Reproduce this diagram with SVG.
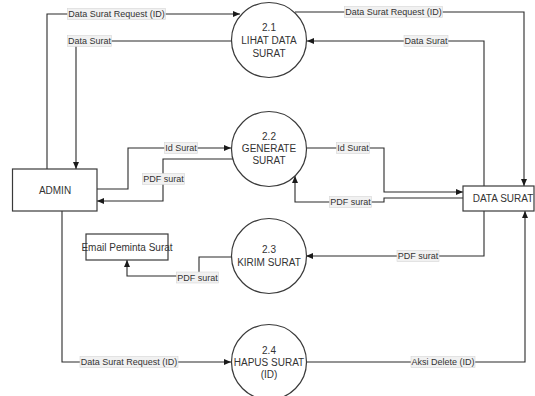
<svg xmlns="http://www.w3.org/2000/svg" width="535" height="396" viewBox="0 0 535 396">
<defs>
<marker id="arr" markerUnits="userSpaceOnUse" markerWidth="7" markerHeight="6" refX="7" refY="3" orient="auto">
<path d="M0,0 L7,3 L0,6 z" fill="#1a1a1a"/>
</marker>
<style>
.node{fill:#fff;stroke:#3a3a3a;stroke-width:1.2}
.nt{font-family:"Liberation Sans",Arial,sans-serif;font-size:10px;fill:#333;text-anchor:middle}
.c{fill:none;stroke:#2a2a2a;stroke-width:1.1;marker-end:url(#arr)}
.lb{fill:#f1f1f1;stroke:#d6d6d6;stroke-width:0.6}
.lt{font-family:"Liberation Sans",Arial,sans-serif;font-size:9px;fill:#333;text-anchor:middle}
</style>
</defs>
<rect width="535" height="396" fill="#fff"/>
<g id="connectors">
<path class="c" d="M47,169 L47,14 L240,14"/>
<path class="c" d="M231,41 L76,41 L76,169"/>
<path class="c" d="M295,12 L524,12 L524,186"/>
<path class="c" d="M484,186 L484,41 L307,41"/>
<path class="c" d="M97,189 L128,189 L128,148 L231,148"/>
<path class="c" d="M233,159 L163,159 L163,201 L97,201"/>
<path class="c" d="M306,148 L384,148 L384,192 L463,192"/>
<path class="c" d="M463,198 L384,198 L384,202 L295,202 L295,176"/>
<path class="c" d="M484,211 L484,256 L306,256"/>
<path class="c" d="M232,257 L199,257 L199,276 L127,276 L127,260"/>
<path class="c" d="M62,211 L62,362 L231,362"/>
<path class="c" d="M306,362 L525,362 L525,211"/>
<g id="labels">
<rect class="lb" x="67.5" y="8.5" width="98" height="11"/>
<text class="lt" x="116.5" y="17.3">Data Surat Request (ID)</text>
<rect class="lb" x="67.5" y="35.5" width="44" height="11"/>
<text class="lt" x="89.5" y="44.3">Data Surat</text>
<rect class="lb" x="344.5" y="6.5" width="98" height="11"/>
<text class="lt" x="393.5" y="15.3">Data Surat Request (ID)</text>
<rect class="lb" x="404" y="35.5" width="44" height="11"/>
<text class="lt" x="426" y="44.3">Data Surat</text>
<rect class="lb" x="164.5" y="142.5" width="33" height="11"/>
<text class="lt" x="181" y="151.3">Id Surat</text>
<rect class="lb" x="142.5" y="173.5" width="42" height="11"/>
<text class="lt" x="163.5" y="182.3">PDF surat</text>
<rect class="lb" x="336.5" y="142.5" width="33" height="11"/>
<text class="lt" x="353" y="151.3">Id Surat</text>
<rect class="lb" x="329.5" y="196.5" width="42" height="11"/>
<text class="lt" x="350.5" y="205.3">PDF surat</text>
<rect class="lb" x="397" y="250.5" width="42" height="11"/>
<text class="lt" x="418" y="259.3">PDF surat</text>
<rect class="lb" x="176.5" y="272" width="42" height="11"/>
<text class="lt" x="197.5" y="280.8">PDF surat</text>
<rect class="lb" x="80" y="356.5" width="98" height="11"/>
<text class="lt" x="129" y="365.3">Data Surat Request (ID)</text>
<rect class="lb" x="411" y="356.5" width="64" height="11"/>
<text class="lt" x="443" y="365.3">Aksi Delete (ID)</text>
</g>
</g>
<g id="admin">
<rect class="node" x="12.5" y="169" width="84.5" height="42"/>
<text class="nt" x="55" y="193.5">ADMIN</text>
</g>
<g id="data-surat">
<rect class="node" x="463" y="186" width="71" height="25"/>
<text class="nt" x="503" y="201.5">DATA SURAT</text>
</g>
<g id="email">
<rect class="node" x="86" y="234" width="82" height="26"/>
<text class="nt" x="127" y="250.5">Email Peminta Surat</text>
</g>
<g id="p21">
<circle class="node" cx="269" cy="40" r="37.5"/>
<text class="nt" x="269" y="31">2.1</text>
<text class="nt" x="269" y="44">LIHAT DATA</text>
<text class="nt" x="269" y="56.5">SURAT</text>
</g>
<g id="p22">
<circle class="node" cx="269" cy="149" r="37.5"/>
<text class="nt" x="269" y="139.5">2.2</text>
<text class="nt" x="269" y="151.5">GENERATE</text>
<text class="nt" x="269" y="163.5">SURAT</text>
</g>
<g id="p23">
<circle class="node" cx="269" cy="256" r="37.5"/>
<text class="nt" x="269" y="252.5">2.3</text>
<text class="nt" x="269" y="265.5">KIRIM SURAT</text>
</g>
<g id="p24">
<circle class="node" cx="269" cy="362" r="37.5"/>
<text class="nt" x="269" y="353.5">2.4</text>
<text class="nt" x="269" y="365.5">HAPUS SURAT</text>
<text class="nt" x="269" y="377.5">(ID)</text>
</g>
</svg>
